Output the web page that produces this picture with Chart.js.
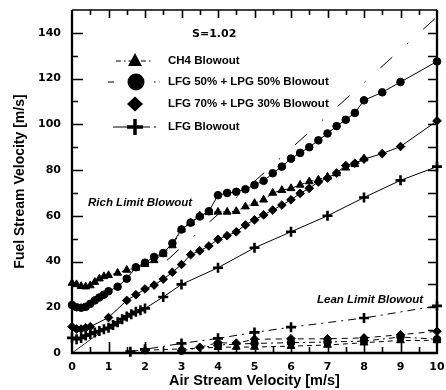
<!DOCTYPE html>
<html>
<head>
<meta charset="utf-8">
<script src="https://cdn.jsdelivr.net/npm/chart.js@4.4.0/dist/chart.umd.min.js"></script>
<style>
  html, body { margin: 0; padding: 0; background: #fff; }
</style>
</head>
<body>
<canvas id="myChart" width="446" height="390"></canvas>
<script>
// rich limit blowout
const ch4RichX = [0, 0.125, 0.25, 0.375, 0.5, 0.625, 0.75, 0.875, 1, 1.25, 1.5, 1.75, 2, 2.25, 2.5, 2.75, 3, 3.25, 3.5,
  3.75, 4, 4.25, 4.5, 4.75, 5, 5.25, 5.5, 5.75, 6, 6.25, 6.5, 6.75, 7, 7.25, 7.5, 7.75, 8];
const ch4RichY = [30.6, 30, 29.2, 29, 29.5, 31, 32.5, 33.5, 34, 35, 36.3, 37.2, 38.8, 40.5, 43.3, 47, 54, 57, 60,
  61.5, 61.7, 61.7, 62, 64, 65.5, 67, 70, 71.2, 72, 73.5, 75, 75.8, 77, 78.5, 81, 82.5, 85];

const lfg50RichX = [0, 0.125, 0.25, 0.375, 0.5, 0.625, 0.75, 0.875, 1, 1.25, 1.5, 1.75, 2, 2.25, 2.5, 2.75, 3, 3.25, 3.5,
  3.75, 4, 4.25, 4.5, 4.75, 5, 5.25, 5.5, 5.75, 6, 6.25, 6.5, 6.75, 7, 7.25, 7.5, 7.75, 8, 8.5, 9, 10];
const lfg50RichY = [21, 20, 19.8, 20.2, 21.5, 23, 24.3, 25.5, 27, 29, 32.5, 37.5, 39.5, 42, 43.7, 48, 54, 57, 59.7,
  62, 69, 70, 70.5, 71.6, 73.5, 75.3, 78.6, 81.5, 85, 87.5, 90, 93, 96, 99.2, 102, 105, 110.5, 114, 118.5, 127.5];

const lfg70RichX = [0, 0.125, 0.25, 0.375, 0.5, 1, 1.5, 1.75, 2, 2.25, 2.5, 2.75, 3, 3.25, 3.5, 3.75, 4, 4.25, 4.5,
  4.75, 5, 5.25, 5.5, 5.75, 6, 6.25, 6.5, 6.75, 7, 7.25, 7.5, 7.75, 8, 8.5, 9, 10];
const lfg70RichY = [11.5, 10.5, 10.5, 11, 11.5, 15.5, 23, 25.5, 28, 29.7, 32.3, 35.3, 38.7, 43, 44.7, 46.8, 49.7, 51.3, 53,
  56, 58.2, 60.4, 62.5, 64.7, 67, 69.8, 72, 74.8, 76.5, 78.7, 82, 83, 84.8, 87.2, 90.3, 101.5];

const lfgRichX = [0, 0.125, 0.25, 0.375, 0.5, 0.625, 0.75, 0.875, 1, 1.125, 1.25, 1.375, 1.5, 1.625, 1.75, 1.875, 2,
  2.5, 3, 4, 5, 6, 7, 8, 9, 10];
const lfgRichY = [6.6, 6, 6.6, 7.6, 8.3, 9, 9.6, 10.4, 11, 12.2, 13.4, 14.8, 16, 17, 18, 18.7, 19.5,
  24.5, 30, 37.3, 46, 53, 60, 68, 75.5, 81.5];

// thin guide lines (no markers)
const guideX = [2.6, 10];
const guideY = [40.5, 147];
const originX = [0, 0.9];
const originY = [0, 10.5];

// lean limit blowout
const lfgLeanX = [1.6, 2, 3, 4, 5, 6, 8, 10];
const lfgLeanY = [0.6, 1.6, 4.2, 6.4, 9, 11.3, 15.3, 20.6];
const ch4LeanX = [2, 3, 4, 4.5, 5, 6, 7, 8, 9, 10];
const ch4LeanY = [1.2, 1.8, 2.5, 2.6, 2.6, 3, 3.5, 4.5, 5.5, 5.5];
const lfg50LeanX = [3, 4, 5, 6, 7, 8, 9, 10];
const lfg50LeanY = [1, 3.5, 4.2, 4.5, 4.8, 5.2, 7, 6];
const lfg70LeanX = [3.5, 4, 4.5, 5, 6, 7, 8, 9, 10];
const lfg70LeanY = [2.5, 4.5, 4.3, 6, 6.2, 6.2, 6.6, 8, 9.5];

const xTicks = [0, 1, 2, 3, 4, 5, 6, 7, 8, 9, 10];
const yTicks = [0, 20, 40, 60, 80, 100, 120, 140];

const legendNames = ["CH4 Blowout", "LFG 50% + LPG 50% Blowout", "LFG 70% + LPG 30% Blowout", "LFG Blowout"];

function pts(xs, ys) {
  let out = [];
  for (let i = 0; i < xs.length; i++) {
    out.push({ x: xs[i], y: ys[i] });
  }
  return out;
}

function series(xs, ys, style, r, bw, dash, lw) {
  return {
    data: pts(xs, ys),
    showLine: true,
    borderColor: "#000",
    backgroundColor: "#000",
    borderWidth: lw,
    borderDash: dash,
    pointStyle: style,
    pointRadius: r,
    pointBorderWidth: bw,
    pointBorderColor: "#000",
    pointBackgroundColor: "#000",
    clip: false,
  };
}

// frame, inward ticks, legend and notes
const decor = {
  id: "decor",
  afterDatasetsDraw(chart) {
    const c = chart.ctx;
    const a = chart.chartArea;
    const xs = chart.scales.x;
    const ys = chart.scales.y;
    c.save();
    c.strokeStyle = "#000";
    c.fillStyle = "#000";

    // ticks
    c.lineWidth = 1.6;
    c.beginPath();
    for (let v = 10; v < 150; v += 10) {
      const py = Math.round(ys.getPixelForValue(v)) + 0.5;
      const l = v % 20 === 0 ? 11 : 6;
      c.moveTo(a.left, py); c.lineTo(a.left + l, py);
      c.moveTo(a.right, py); c.lineTo(a.right - 9, py);
    }
    for (let v = 0.5; v < 10; v += 0.5) {
      const px = Math.round(xs.getPixelForValue(v)) + 0.5;
      const big = Number.isInteger(v);
      c.moveTo(px, a.bottom); c.lineTo(px, a.bottom - (big ? 11 : 6));
      c.moveTo(px, a.top); c.lineTo(px, a.top + (big ? 8 : 5));
    }
    c.stroke();

    // frame
    c.lineWidth = 2.3;
    c.beginPath();
    c.moveTo(a.left, a.top); c.lineTo(a.left, a.bottom); c.lineTo(a.right, a.bottom); c.lineTo(a.right, a.top);
    c.stroke();
    c.lineWidth = 1.3;
    c.beginPath();
    c.moveTo(a.left, a.top); c.lineTo(a.right, a.top);
    c.stroke();

    // legend
    const rows = [61, 82, 104, 127];
    const mx = 135;
    c.lineWidth = 1;
    c.setLineDash([5, 3, 1.5, 3]);
    c.beginPath(); c.moveTo(116, rows[0]); c.lineTo(152, rows[0]); c.stroke();
    c.setLineDash([6, 40, 1.5, 4]);
    c.beginPath(); c.moveTo(108, rows[1]); c.lineTo(160, rows[1]); c.stroke();
    c.setLineDash([]);
    c.beginPath(); c.moveTo(113, rows[3]); c.lineTo(150, rows[3]); c.stroke();
    c.beginPath(); c.moveTo(154, rows[3]); c.lineTo(156, rows[3]); c.stroke();

    // triangle
    c.beginPath();
    c.moveTo(mx, rows[0] - 8); c.lineTo(mx + 7, rows[0] + 5); c.lineTo(mx - 7, rows[0] + 5); c.closePath(); c.fill();
    // circle
    c.beginPath(); c.arc(mx + 1, rows[1], 8.5, 0, Math.PI * 2); c.fill();
    // diamond
    c.beginPath();
    c.moveTo(mx, rows[2] - 7.5); c.lineTo(mx + 8, rows[2]); c.lineTo(mx, rows[2] + 7.5); c.lineTo(mx - 8, rows[2]); c.closePath(); c.fill();
    // cross
    c.lineWidth = 3.5;
    c.beginPath();
    c.moveTo(mx - 8, rows[3]); c.lineTo(mx + 8, rows[3]);
    c.moveTo(mx, rows[3] - 8); c.lineTo(mx, rows[3] + 8);
    c.stroke();

    c.textBaseline = "middle";
    c.textAlign = "left";
    c.font = "bold 11.5px 'Liberation Sans', Arial, sans-serif";
    for (let i = 0; i < legendNames.length; i++) {
      c.fillText(legendNames[i], 168, rows[i]);
    }

    c.font = "bold 11px 'DejaVu Sans', sans-serif";
    c.fillText("S=1.02", 192, 34);

    c.font = "italic bold 11.5px 'Liberation Sans', Arial, sans-serif";
    c.fillText("Rich Limit Blowout", 88, 203);
    c.fillText("Lean Limit Blowout", 317, 300);
    c.restore();
  },
};

const ctx = document.getElementById("myChart");

let ch = new Chart(ctx, {
  type: "scatter",
  data: {
    datasets: [
      series(guideX, guideY, false, 0, 0, [16, 20, 1.5, 20], 1),
      series(originX, originY, false, 0, 0, [], 0.8),
      series(ch4RichX, ch4RichY, "triangle", 4.5, 1, [4, 2, 1, 2], 1),
      series(lfg50RichX, lfg50RichY, "circle", 3.8, 1, [], 1),
      series(lfg70RichX, lfg70RichY, "rectRot", 4.3, 1, [], 1),
      series(lfgRichX, lfgRichY, "cross", 5, 2.6, [], 1),
      series(lfgLeanX, lfgLeanY, "cross", 5, 2.6, [8, 5, 2, 5], 1),
      series(ch4LeanX, ch4LeanY, "triangle", 4.5, 1, [5, 4], 1),
      series(lfg50LeanX, lfg50LeanY, "circle", 3.8, 1, [6, 4, 2, 4], 1),
      series(lfg70LeanX, lfg70LeanY, "rectRot", 4.3, 1, [6, 5], 1),
    ],
  },
  options: {
    responsive: false,
    animation: false,
    events: [],
    layout: { padding: { left: 0, right: 9, top: 10, bottom: 0 } },
    plugins: {
      legend: { display: false },
      tooltip: { enabled: false },
    },
    scales: {
      x: {
        type: "linear",
        min: 0,
        max: 10,
        afterFit(s) { s.height = 37; s.paddingLeft = 0; s.paddingRight = 0; },
        afterBuildTicks(s) { s.ticks = xTicks.map(v => ({ value: v })); },
        grid: { display: false, drawTicks: false },
        border: { display: false },
        ticks: {
          padding: 8,
          color: "#000",
          maxRotation: 0,
          font: { family: "'DejaVu Sans', sans-serif", size: 11, weight: "bold" },
        },
        title: {
          display: true,
          text: "Air Stream Velocity [m/s]",
          color: "#000",
          padding: { top: 0, bottom: 0 },
          font: { family: "'Liberation Sans', Arial, sans-serif", size: 14.5, weight: "bold" },
        },
      },
      y: {
        type: "linear",
        min: 0,
        max: 150,
        afterFit(s) { s.width = 72; s.paddingTop = 0; s.paddingBottom = 0; },
        afterBuildTicks(s) { s.ticks = yTicks.map(v => ({ value: v })); },
        grid: { display: false, drawTicks: false },
        border: { display: false },
        ticks: {
          padding: 11,
          color: "#000",
          font: { family: "'DejaVu Sans', sans-serif", size: 11, weight: "bold" },
        },
        title: {
          display: true,
          text: "Fuel Stream Velocity [m/s]",
          color: "#000",
          padding: { top: 11.5, bottom: 0 },
          font: { family: "'Liberation Sans', Arial, sans-serif", size: 14, weight: "bold" },
        },
      },
    },
  },
  plugins: [decor],
});
</script>
</body>
</html>
